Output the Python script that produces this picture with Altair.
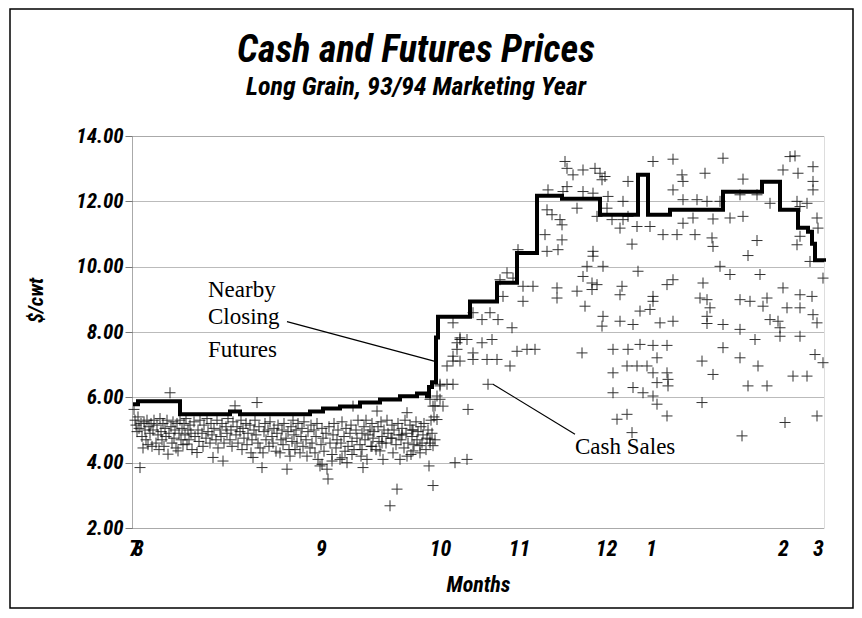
import altair as alt
import pandas as pd

# ---- titles ----
title_text = ["Cash and Futures Prices", "Long Grain, 93/94 Marketing Year"]

# ---- month tick positions along the sale sequence axis ----
month_pos = [2, 6, 189, 308, 387, 474, 519, 651, 686]
month_lab = ["7", "8", "9", "10", "11", "12", "1", "2", "3"]
y_ticks = [2, 4, 6, 8, 10, 12, 14]

# ---- nearby closing futures (step after) ----
fut_seq = [1, 6, 48, 98, 108, 178, 191, 208, 228, 248, 268, 285, 295, 297, 300, 304, 306,
           338, 365, 385, 405, 430, 468, 506, 516, 538, 591, 630, 648, 666, 676, 680, 683, 692]
fut_price = [5.79, 5.88, 5.48, 5.57, 5.48, 5.57, 5.66, 5.72, 5.84, 5.93, 6.03, 6.12, 6.03, 6.32, 6.46, 7.83, 8.47,
             8.93, 9.51, 10.42, 12.17, 12.08, 11.59, 12.81, 11.59, 11.74, 12.29, 12.60, 11.74, 11.19, 11.07, 10.70, 10.20, 10.15]

# ---- cash sales (sequence, $/cwt) ----
cash_jul_aug = [
    (2,5.63),(3,5.3),(4,5.15),(5,4.95),(6,5.4),(7,5.05),(8,3.85),(9,5.2),(10,4.8),(11,4.45),(12,5.25),(13,5.0),
    (14,4.7),(15,5.3),(16,4.55),(17,5.1),(18,4.9),(19,5.2),(20,4.5),(21,5.0),(22,5.3),(24,4.6),(25,5.15),(26,4.85),
    (27,4.4),(28,5.35),(29,4.95),(30,4.7),(31,5.2),(32,4.5),(33,5.05),(34,4.8),(35,5.3),(36,4.26),(37,4.9),(38,6.14),
    (39,5.1),(40,4.6),(41,5.25),(42,4.75),(43,5.0),(44,4.45),(45,5.2),(46,4.36),(47,4.9),(48,5.3),(49,4.7),(50,5.05),
    (51,4.55),(52,5.2),(53,4.85),(54,5.35),(55,4.57),(56,5.0),(57,4.7),(58,5.15),(59,4.9),(60,4.4),(62,5.25),(63,4.8),
    (65,4.31),(66,5.0),(67,4.65),(68,5.3),(70,4.9),(71,4.5),(72,5.15),(74,4.75),(75,5.35),(76,4.95),(78,4.6),(79,5.2),
    (80,4.85),(81,4.16),(82,5.05),(84,4.7),(85,5.3),(86,4.45),(88,5.0),(89,4.8),(90,5.2),(91,4.05),(92,4.6),(94,5.1),
    (95,4.9),(96,5.35),(98,4.7),(99,5.0),(100,4.5),(101,5.25),(103,5.74),(104,4.85),(105,5.1),(106,4.6),(108,4.95),
    (109,5.3),(110,4.4),(111,5.05),(112,4.75),(114,5.2),(115,4.55),(116,4.9),(118,5.15),(119,4.3),(120,4.7),(121,4.16),
    (122,5.0),(123,5.3),(124,4.85),(125,5.84),(126,4.6),(127,5.1),(128,4.45),(130,3.85),(131,4.3),(132,4.95),(133,5.2),
    (134,4.7),(136,5.0),(137,4.5),(138,5.25),(140,4.8),(141,4.6),(142,5.05),(144,4.35),(145,4.9),(146,5.15),(148,4.3),
    (149,4.7),
]
cash_sep = [
    (150,5.0),(151,4.55),(152,5.2),(154,4.75),(155,3.8),(156,4.95),(157,4.4),(158,4.2),(159,5.1),(160,4.65),(161,5.3),
    (162,4.85),(163,4.4),(164,5.0),(165,4.6),(166,5.2),(168,4.3),(169,4.8),(170,5.05),(171,4.5),(172,5.25),(174,4.7),
    (175,4.2),(176,4.95),(178,4.45),(179,5.15),(180,4.6),(182,5.0),(183,4.3),(184,4.8),(185,5.2),(186,4.1),(188,3.9),
    (189,4.55),(190,5.05),(191,4.75),(192,4.35),(194,4.9),(195,3.8),(196,3.5),(197,5.1),(198,4.6),(200,4.25),(201,4.85),
    (202,5.2),(204,4.45),(205,4.7),(206,5.0),(208,4.1),(209,4.6),(210,5.25),(212,4.8),(213,4.35),(214,5.05),(215,4.0),
    (216,4.5),(218,4.9),(219,5.15),(220,4.65),(221,5.73),(222,4.4),(224,5.0),(225,4.75),(226,5.3),(228,4.55),(229,4.2),
    (230,4.9),(231,3.85),(232,5.1),(233,4.7),(234,5.3),(235,4.1),(236,4.85),(238,5.0),(239,4.5),(240,5.2),(241,4.75),
    (242,4.95),(244,4.4),(245,5.58),(246,5.1),(247,4.65),(248,4.36),(249,5.25),(250,4.8),(251,4.1),(252,5.0),(254,4.6),
    (255,5.3),(256,4.9),(258,2.68),(259,4.75),(260,5.15),(261,4.3),(262,5.0),(264,4.55),(265,3.19),(266,5.2),(267,4.85),
    (268,4.1),(269,4.7),(270,5.05),(272,4.45),(273,5.3),(274,4.9),(275,5.53),(276,4.6),(278,5.15),(279,4.25),(280,4.8),
    (281,5.0),(282,4.55),(284,5.25),(285,4.7),(286,4.95),(288,4.3),(289,5.1),(290,4.6),(291,4.85),(292,5.2),(294,4.4),
    (295,4.75),(296,5.0),(297,3.9),(298,4.6),(299,5.3),(300,4.9),(301,3.3),(302,5.4),(303,4.7),
    (190,3.95),(200,4.05),(210,4.15),(220,4.25),(230,4.4),(240,4.5),(250,4.6),(260,4.75),(270,4.85),(280,5.0),
    (288,4.52),(281,4.36),(275,4.2),(301,4.52),(298,4.72),(305,5.32),(301,5.73),(311,5.73),(308,5.94),
]
cash_oct = [
    (308,6.35),(315,6.4),(315,6.96),(321,7.26),(325,7.67),(328,7.77),(341,7.36),(323,4.0),(335,4.1),
    (321,8.28),(328,7.82),(325,7.47),(335,7.77),(350,7.67),(360,7.77),(321,7.11),(328,7.11),(341,7.16),(355,7.16),
    (365,7.16),(378,6.96),(385,7.41),(395,7.47),(403,7.47),(321,6.40),(356,6.40),(308,6.40),(305,6.04),(303,5.74),
    (298,5.94),(336,5.63),(341,8.59),(350,8.38),(358,8.59),(366,8.38),(380,8.13),(375,9.81),(368,9.60),(381,9.65),
    (391,9.40),(401,9.40),(391,8.94),(371,9.09),(386,10.52),
]
cash_nov_dec = [
    (433,13.22),(435,13.01),(451,12.96),(463,13.01),(468,12.86),(473,12.76),(441,12.81),(470,12.66),(496,12.61),
    (416,12.35),(435,12.45),(431,12.30),(451,12.30),(461,12.25),(476,12.15),(491,12.0),(415,11.74),(420,11.59),
    (428,11.44),(430,11.28),(413,10.98),(415,10.47),(430,10.82),(426,10.52),(445,11.79),(475,11.79),(465,11.54),
    (480,11.44),(491,11.44),(496,11.54),(488,11.18),(505,11.23),(500,10.69),(461,10.47),(461,10.32),(455,10.01),
    (471,10.01),(506,9.86),(451,9.70),(460,9.50),(465,9.45),(445,9.25),(460,9.30),(425,9.35),(425,9.04),(490,9.40),
    (488,9.14),(453,8.79),(471,8.48),(470,8.18),(488,8.33),(501,8.23),(508,8.64),(450,7.36),(481,7.47),(496,7.47),
    (508,7.62),(481,6.75),(495,6.96),(505,6.96),(501,6.30),(511,6.14),(481,6.14),(495,5.48),(485,5.33),(500,4.92),
]
cash_jan_mar = [
    (521,13.22),(541,13.29),(591,13.32),(658,13.37),(663,13.39),(550,12.81),(541,12.35),(551,12.61),(573,12.86),
    (611,12.68),(651,12.96),(666,12.86),(681,13.06),(681,12.61),(681,12.35),(518,11.23),(531,10.98),(545,10.98),
    (563,10.98),(580,10.88),(581,10.62),(625,10.80),(616,10.34),(551,11.33),(561,11.49),(581,11.46),(598,11.49),
    (611,11.54),(551,12.05),(565,12.05),(575,12.0),(588,12.0),(608,12.2),(625,12.2),(638,11.94),(665,12.0),
    (675,11.94),(668,11.84),(685,11.49),(686,11.18),(668,10.93),(665,10.67),(678,10.16),(691,9.65),(541,9.60),
    (535,9.45),(571,9.50),(598,9.76),(628,9.76),(588,10.01),(518,8.69),(528,8.28),(541,8.33),(521,8.94),(521,9.09),
    (568,9.04),(575,8.99),(578,8.74),(575,8.48),(575,8.26),(591,8.23),(608,8.08),(608,8.99),(618,8.94),(635,9.04),
    (631,8.79),(638,8.38),(646,8.33),(648,8.13),(651,9.35),(668,9.14),(680,9.09),(655,8.74),(668,8.74),(681,8.53),
    (685,8.28),(668,7.87),(648,7.87),(521,7.59),(535,7.59),(525,7.21),(521,6.75),(535,6.75),(536,6.55),(536,6.35),
    (525,6.45),(515,6.96),(521,6.04),(570,7.11),(608,7.21),(626,6.96),(623,7.77),(591,7.52),(581,6.70),(661,6.65),
    (675,6.65),(683,7.31),(691,7.06),(616,6.35),(635,6.35),(570,5.84),(525,5.79),(535,5.43),(685,5.43),(610,4.82),
    (653,5.23),
]

# ---- annotations ----
ann_text = ["Nearby", "Closing", "Futures", "Cash Sales"]
ann_seq = [76, 76, 76, 443]
ann_price = [9.08, 8.23, 7.25, 4.26]
lead_seq = [155, 361]
lead_price = [8.32, 6.40]
lead_seq2 = [303, 443]
lead_price2 = [7.10, 4.87]

cash_all = cash_jul_aug + cash_sep + cash_oct + cash_nov_dec + cash_jan_mar
cash_df = pd.DataFrame(cash_all, columns=["x", "y"])
fut_df = pd.DataFrame({"x": fut_seq, "y": fut_price})
ann_df = pd.DataFrame({"x": ann_seq, "y": ann_price, "t": ann_text})
lead_df = pd.DataFrame({"x": lead_seq, "y": lead_price, "x2": lead_seq2, "y2": lead_price2})
title_df = pd.DataFrame({"t": title_text})

SANS = "Liberation Sans Narrow, Roboto Condensed, Arial Narrow, Liberation Sans, sans-serif"
SERIF = "Liberation Serif, Times New Roman, serif"

label_expr = " : ".join(f"datum.value == {p} ? '{l}'" for p, l in zip(month_pos, month_lab)) + " : ''"

xscale = alt.Scale(domain=[0, 692], nice=False, zero=False)
yscale = alt.Scale(domain=[2, 14], nice=False, zero=False)

x_axis = alt.Axis(values=month_pos, labelExpr=label_expr, title="Months", grid=False, ticks=False,
                  domain=False, labelFont=SANS, labelFontSize=22, labelFontStyle="italic",
                  labelFontWeight="bold", labelColor="black", labelPadding=10, labelOverlap=False,
                  labelFlush=False, titleFont=SANS, titleFontSize=22, titleFontStyle="italic",
                  titleFontWeight="bold", titleColor="black", titleY=46, titleBaseline="top")
y_axis = alt.Axis(values=y_ticks, format=".2f", title="$/cwt", grid=True, gridColor="#777",
                  gridDash=[1, 1], gridWidth=1, domain=True, domainColor="#777", domainDash=[1, 1],
                  ticks=True, tickSize=7, tickColor="#777", labelPadding=2, labelFont=SANS,
                  labelFontSize=21, labelFontStyle="italic", labelFontWeight="bold", labelColor="black",
                  titleFont=SANS, titleFontSize=21, titleFontStyle="italic", titleFontWeight="bold",
                  titleColor="black", titleX=-86, titleY=164, titleAngle=270)

X = alt.X("x:Q", scale=xscale, axis=x_axis, title="Months")
Y = alt.Y("y:Q", scale=yscale, axis=y_axis, title="$/cwt")

CROSS = "M-1,0H1M0,-1V1"

points = alt.Chart(cash_df).mark_point(shape=CROSS, filled=False, size=121, strokeWidth=1,
                                       color="black", opacity=0.8).encode(x=X, y=Y)
futures = alt.Chart(fut_df).mark_line(interpolate="step-after", strokeWidth=4, color="black").encode(x=X, y=Y)
leaders = alt.Chart(lead_df).mark_rule(color="black", strokeWidth=1.2).encode(
    x=X, y=Y, x2=alt.X2("x2:Q"), y2=alt.Y2("y2:Q"))
labels = alt.Chart(ann_df).mark_text(font=SERIF, fontSize=23, align="left", baseline="alphabetic",
                                     color="black").encode(x=X, y=Y, text="t:N")
title_main = alt.Chart(title_df.head(1)).mark_text(
    font=SANS, fontSize=38, fontStyle="italic", fontWeight="bold", align="center",
    baseline="alphabetic", color="black").encode(text="t:N", x=alt.value(284), y=alt.value(-74))
title_sub = alt.Chart(title_df.tail(1)).mark_text(
    font=SANS, fontSize=26, fontStyle="italic", fontWeight="bold", align="center",
    baseline="alphabetic", color="black").encode(text="t:N", x=alt.value(284), y=alt.value(-41))
frame = alt.Chart(title_df.head(1)).mark_rect(filled=False, stroke="black", strokeWidth=1.5).encode(
    x=alt.value(-122), x2=alt.value(721), y=alt.value(-127), y2=alt.value(472))

chart = alt.layer(points, futures, leaders, labels, title_main, title_sub, frame).properties(
    width=692, height=392,
    autosize=alt.AutoSizeParams(type="none"),
    padding={"left": 124, "top": 128, "right": 30, "bottom": 82},
).configure_view(stroke="#555", strokeWidth=1, strokeDash=[1, 1]).configure(background="white")

chart.save("out.html", embed_options={"renderer": "svg", "actions": False})
